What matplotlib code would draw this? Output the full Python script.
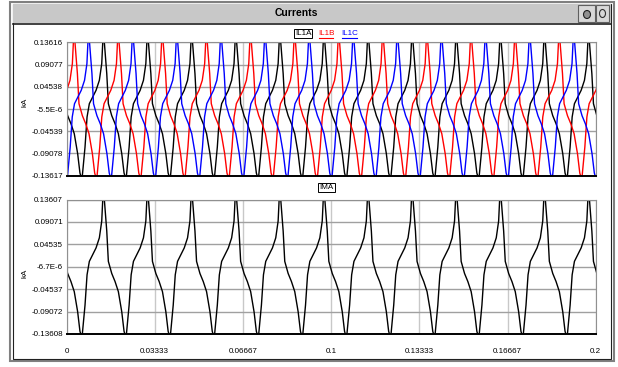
import numpy as np
import matplotlib
matplotlib.use("Agg")
import matplotlib.pyplot as plt
import matplotlib.patches as mpatches

plt.rcParams['font.family'] = ['Liberation Sans', 'DejaVu Sans']

W, H = 618, 367

# one cycle of the current waveform
# phase relative to the positive peak (fraction of a cycle), value / peak
shape_phase = [-0.018, 0.018, 0.073, 0.109, 0.186, 0.261, 0.336, 0.413, 0.465,
               0.483, 0.519, 0.580, 0.626, 0.678, 0.755, 0.830, 0.905, 0.959, 0.982]
shape_value = [1.0, 1.0, 0.53, 0.08, -0.10, -0.22, -0.37, -0.67, -0.96,
               -1.0, -1.0, -0.57, -0.12, 0.08, 0.18, 0.28, 0.43, 0.68, 1.0]

period = 1 / 60.0
t_end = 0.2

# time of first positive peak of each trace
peak_il1a = 0.0140
peak_il1b = 0.0029
peak_il1c = 0.0084
peak_ima = 0.0140

amp_top = 0.13616
amp_bot = 0.13607

top_ticks = [0.13616, 0.09077, 0.04538, -5.5e-6, -0.04539, -0.09078, -0.13617]
top_labels = ['0.13616', '0.09077', '0.04538', '-5.5E-6', '-0.04539', '-0.09078', '-0.13617']
bot_ticks = [0.13607, 0.09071, 0.04535, -6.7e-6, -0.04537, -0.09072, -0.13608]
bot_labels = ['0.13607', '0.09071', '0.04535', '-6.7E-6', '-0.04537', '-0.09072', '-0.13608']
x_ticks = [0, 0.03333, 0.06667, 0.1, 0.13333, 0.16667, 0.2]
x_labels = ['0', '0.03333', '0.06667', '0.1', '0.13333', '0.16667', '0.2']


def trace(peak, amp):
    ts, vs = [], []
    for k in range(-2, 14):
        for p, v in zip(shape_phase[:-1], shape_value[:-1]):
            ts.append(peak + (k + p) * period)
            vs.append(v * amp)
    return np.array(ts), np.array(vs)


def pos(l, t, r, b):
    return [l / W, 1 - b / H, (r - l) / W, (b - t) / H]


fig = plt.figure(figsize=(W / 100, H / 100), dpi=100)
fig.patch.set_facecolor('white')

# window frame drawn in pixel coordinates
bg = fig.add_axes([0, 0, 1, 1])
bg.set_xlim(0, W)
bg.set_ylim(H, 0)
bg.axis('off')
bg.add_patch(mpatches.Rectangle((10, 2), 604, 359, facecolor='white',
                                edgecolor='#808080', lw=1.5))
bg.add_patch(mpatches.Rectangle((13, 4), 598, 355, facecolor='none',
                                edgecolor='#202020', lw=0.8))
bg.add_patch(mpatches.Rectangle((13, 4), 598, 19, facecolor='#c8c8c8',
                                edgecolor='none'))
bg.plot([13, 611], [23.5, 23.5], color='#202020', lw=1.2)
bg.text(296, 13.5, 'Currents', fontsize=7.5, weight='bold', ha='center', va='center')
for x0, w in [(578, 17), (596, 13)]:
    bg.add_patch(mpatches.Rectangle((x0, 5), w, 17, facecolor='#d8d8d8',
                                    edgecolor='#606060', lw=0.8))
bg.add_patch(mpatches.Ellipse((602.5, 13.5), 6, 8, facecolor='none',
                              edgecolor='#303030', lw=0.8))
bg.add_patch(mpatches.Ellipse((587, 14.5), 7, 8, facecolor='#909090',
                              edgecolor='#202020', lw=0.8))


def style_axes(ax, yticks, ylabels, show_x, label_y):
    ax.set_xlim(0, t_end)
    ax.set_ylim(yticks[-1], yticks[0])
    ax.set_yticks(yticks)
    ax.set_yticklabels(ylabels)
    ax.set_xticks(x_ticks)
    if show_x:
        ax.set_xticklabels(x_labels)
    else:
        ax.set_xticklabels([])
    ax.tick_params(length=0, labelsize=5.8, pad=2.5)
    ax.tick_params(axis='x', pad=10)
    ax.set_axisbelow(True)
    ax.grid(axis='y', color='#a0a0a0', lw=1.0)
    ax.grid(axis='x', color='#c8c8c8', lw=1.0)
    for s in ['top', 'left', 'right']:
        ax.spines[s].set_color('#909090')
    ax.spines['bottom'].set_color('black')
    ax.spines['bottom'].set_linewidth(1.4)
    ax.set_ylabel('kA', fontsize=5.8)
    ax.yaxis.set_label_coords(-0.072, label_y)


ax1 = fig.add_axes(pos(66.5, 42.3, 595.7, 175.7))
for peak, col in [(peak_il1a, 'black'), (peak_il1b, '#ff0000'), (peak_il1c, '#0000ff')]:
    t, v = trace(peak, amp_top)
    ax1.plot(t, v, color=col, lw=1.0)
style_axes(ax1, top_ticks, top_labels, False, 0.55)

ax2 = fig.add_axes(pos(66.5, 199.5, 595.7, 334))
t, v = trace(peak_ima, amp_bot)
ax2.plot(t, v, color='black', lw=1.0)
style_axes(ax2, bot_ticks, bot_labels, True, 0.45)

# legend labels
bg.text(303, 33.5, 'IL1A', fontsize=5.8, ha='center', va='center',
        bbox=dict(boxstyle='square,pad=0.15', fc='white', ec='black', lw=0.7))
bg.text(326, 33.5, 'IL1B', fontsize=5.8, ha='center', va='center', color='#ff0000')
bg.plot([319, 333], [37.5, 37.5], color='#ff0000', lw=0.8)
bg.text(349.5, 33.5, 'IL1C', fontsize=5.8, ha='center', va='center', color='#0000ff')
bg.plot([342, 357], [37.5, 37.5], color='#0000ff', lw=0.8)
bg.text(326.5, 187.5, 'IMA', fontsize=5.8, ha='center', va='center',
        bbox=dict(boxstyle='square,pad=0.15', fc='white', ec='black', lw=0.7))

fig.savefig('out.png', dpi=100, facecolor='white')
